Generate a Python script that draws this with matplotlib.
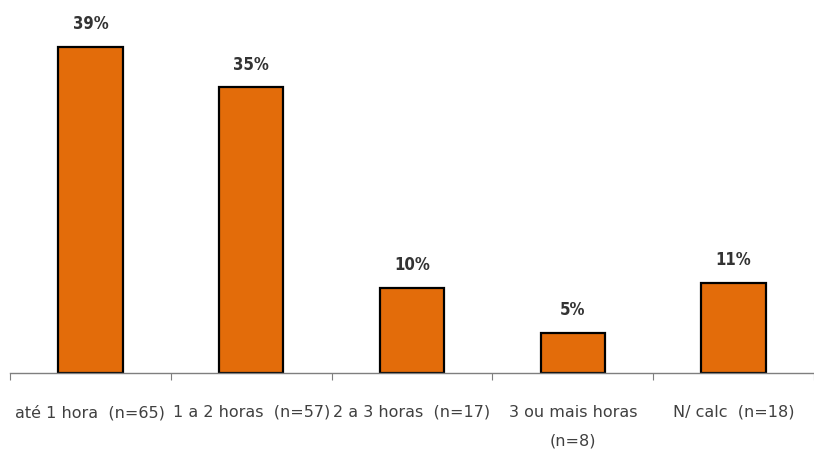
import numpy as np
import matplotlib.pyplot as plt

categories = ['até 1 hora  (n=65)', '1 a 2 horas  (n=57)', '2 a 3 horas  (n=17)',
              '3 ou mais horas\n(n=8)', 'N/ calc  (n=18)']
values = [39.4, 34.5, 10.3, 4.8, 10.9]
labels = ['39%', '35%', '10%', '5%', '11%']

plt.rcParams['font.family'] = ['DejaVu Sans']

fig = plt.figure(figsize=(8.14, 4.55), dpi=100)
ax = fig.add_axes([10 / 814, 82 / 455, 804 / 814, 351 / 455])

x = np.arange(len(categories))
ax.bar(x, values, width=0.4, color='#E36C0A', edgecolor='black', linewidth=1.6)

for xi, v, lab in zip(x, values, labels):
    ax.annotate(lab, (xi, v), xytext=(0, 10), textcoords='offset points',
                ha='center', va='bottom', fontsize=12, fontweight='bold',
                color='#333333', fontstretch='condensed')

ax.set_xlim(-0.5, 4.46)
ax.set_ylim(0, 42.4)
ax.set_yticks([])
for s in ['left', 'right', 'top']:
    ax.spines[s].set_visible(False)
ax.spines['bottom'].set_color('#7f7f7f')
ax.spines['bottom'].set_linewidth(1.0)

# category boundary ticks, labels centred under bars
ax.set_xticks(np.arange(-0.5, 4.6, 1.0))
ax.set_xticklabels([])
ax.set_xticks(x, minor=True)
ax.set_xticklabels(categories, minor=True, fontsize=11.5, color='#404040',
                   va='top', linespacing=2.1)
ax.tick_params(axis='x', which='major', length=5, color='#7f7f7f', direction='out')
ax.tick_params(axis='x', which='minor', length=0, pad=23)

fig.savefig('out.png', dpi=100)
